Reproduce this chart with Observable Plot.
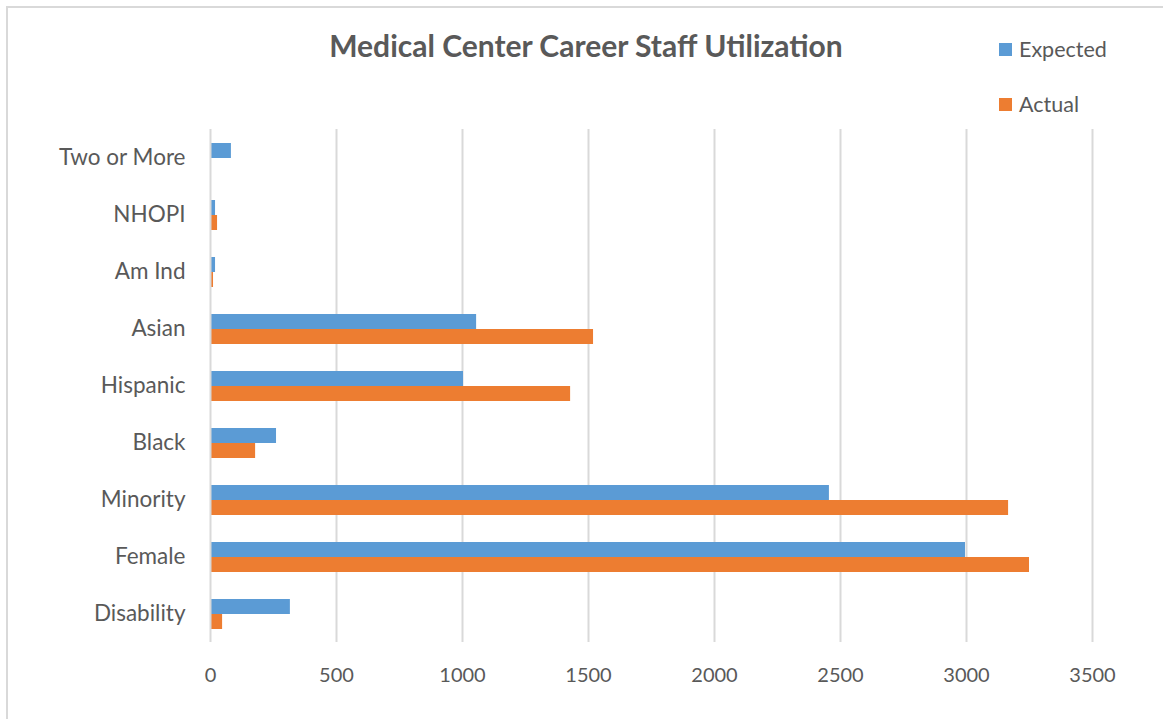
<!DOCTYPE html>
<html>
<head>
<meta charset="utf-8">
<script src="https://cdn.jsdelivr.net/npm/d3@7"></script>
<script src="https://cdn.jsdelivr.net/npm/@observablehq/plot@0.6"></script>
<style>
  html, body { margin: 0; padding: 0; background: #fff; }
  #wrap { position: relative; width: 1163px; height: 719px; font-family: Lato, "Open Sans", sans-serif; color: #595959; overflow: hidden; }
  #frame { position: absolute; left: 6px; top: 6px; width: 1200px; height: 800px; border-left: 2px solid #d9d9d9; border-top: 2px solid #d9d9d9; }
  #title { position: absolute; left: 0; width: 1172px; top: 27px; text-align: center; font-size: 30px; font-weight: bold; color: #595959; }
  .leg { position: absolute; left: 999px; font-size: 21.5px; color: #595959; display: flex; align-items: center; }
  .sw { width: 13px; height: 13px; margin-right: 7px; display: inline-block; }
  #chart { position: absolute; left: 0; top: 0; }
</style>
</head>
<body>
<div id="wrap">
  <div id="frame"></div>
  <div id="chart"></div>
  <div id="title">Medical Center Career Staff Utilization</div>
  <div class="leg" style="top:36px"><span class="sw" style="background:#5B9BD5"></span>Expected</div>
  <div class="leg" style="top:91px"><span class="sw" style="background:#ED7D31"></span>Actual</div>
</div>
<script>
const categories = ["Two or More", "NHOPI", "Am Ind", "Asian", "Hispanic", "Black", "Minority", "Female", "Disability"];
const expected = [83, 20, 20, 1056, 1004, 262, 2456, 2996, 317];
const actual = [0, 28, 12, 1520, 1429, 179, 3167, 3250, 48];
const seriesNames = ["Expected", "Actual"];
const seriesColors = ["#5B9BD5", "#ED7D31"];
const xTicks = [0, 500, 1000, 1500, 2000, 2500, 3000, 3500];

const rows = [];
categories.forEach((c, i) => {
  rows.push({category: c, series: "Expected", value: expected[i]});
  rows.push({category: c, series: "Actual", value: actual[i]});
});

const chart = Plot.plot({
  width: 1163,
  height: 719,
  marginLeft: 210,
  marginRight: 71,
  marginTop: 128,
  marginBottom: 76,
  style: {fontFamily: "Lato, 'Open Sans', sans-serif", color: "#595959", background: "transparent"},
  x: {domain: [0, 3500], ticks: xTicks, label: null},
  fy: {domain: categories, padding: 0, label: null},
  y: {domain: seriesNames, axis: null, paddingInner: 0, paddingOuter: 0.79},
  color: {domain: seriesNames, range: seriesColors},
  marks: [
    Plot.ruleX(xTicks.slice(1), {stroke: "#d9d9d9", strokeWidth: 2, strokeOpacity: 1}),
    Plot.barX(rows, {x: "value", y: "series", fy: "category", fill: "series"}),
    Plot.ruleX([0], {stroke: "#d9d9d9", strokeWidth: 2, strokeOpacity: 1}),
    Plot.axisX({ticks: xTicks, tickSize: 0, tickPadding: 25, fontSize: 20, tickFormat: d => String(d), label: null}),
    Plot.axisFy({anchor: "left", tickSize: 0, tickPadding: 25, fontSize: 22.5, label: null})
  ]
});
document.getElementById("chart").appendChild(chart);
</script>
</body>
</html>
